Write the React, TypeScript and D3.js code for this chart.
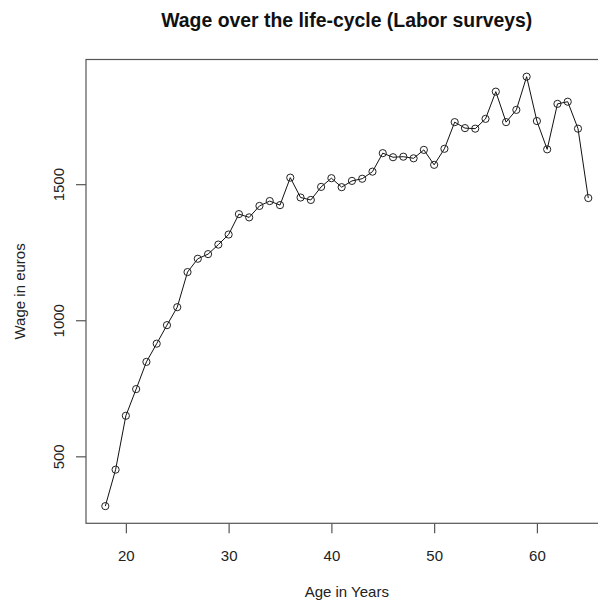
import { useEffect, useRef } from 'react';
import * as d3 from 'd3';

const AGES = [
  18, 19, 20, 21, 22, 23, 24, 25, 26, 27, 28, 29, 30, 31, 32, 33, 34, 35, 36, 37, 38, 39, 40, 41,
  42, 43, 44, 45, 46, 47, 48, 49, 50, 51, 52, 53, 54, 55, 56, 57, 58, 59, 60, 61, 62, 63, 64, 65,
];
const WAGES = [
  317, 451, 649, 747, 847, 914, 982, 1048, 1177, 1226, 1243, 1278, 1315, 1390, 1378, 1420, 1438, 1423,
  1524, 1451, 1442, 1490, 1522, 1489, 1512, 1520, 1546, 1614, 1599, 1601, 1595, 1626, 1571, 1630,
  1728, 1706, 1704, 1740, 1840, 1728, 1773, 1895, 1732, 1628, 1795, 1803, 1704, 1449,
];
const X_TICKS = [20, 30, 40, 50, 60];
const Y_TICKS = [500, 1000, 1500];

const TITLE = 'Wage over the life-cycle (Labor surveys)';
const X_LABEL = 'Age in Years';
const Y_LABEL = 'Wage in euros';

export default function App() {
  const svgRef = useRef<SVGSVGElement>(null);

  useEffect(() => {
    if (!svgRef.current) return;
    const width = 598;
    const height = 604;
    // plot region (R style box), right side runs past the picture edge
    const left = 86, right = 607.6, top = 59.5, bottom = 523.3;
    const font = "'Liberation Sans', Arial, Helvetica, sans-serif";

    const data = AGES.map((a, i) => ({ age: a, wage: WAGES[i] }));

    // R pads the data range by 4% on each side
    const pad = (ext: [number, number]) => {
      const d = (ext[1] - ext[0]) * 0.04;
      return [ext[0] - d, ext[1] + d];
    };
    const x = d3.scaleLinear()
      .domain(pad(d3.extent(AGES) as [number, number])).range([left, right]);
    const y = d3.scaleLinear()
      .domain(pad(d3.extent(WAGES) as [number, number])).range([bottom, top]);

    const svg = d3.select(svgRef.current);
    svg.selectAll('*').remove();
    svg.attr('width', width).attr('height', height);

    svg.append('rect').attr('width', width).attr('height', height).attr('fill', '#ffffff');

    // line + open circles (type = "o")
    const line = d3.line<{ age: number; wage: number }>()
      .x(d => x(d.age)).y(d => y(d.wage));
    svg.append('path')
      .datum(data)
      .attr('d', line)
      .attr('fill', 'none')
      .attr('stroke', '#111')
      .attr('stroke-width', 1);

    svg.append('g').selectAll('circle').data(data).join('circle')
      .attr('cx', d => x(d.age))
      .attr('cy', d => y(d.wage))
      .attr('r', 3.6)
      .attr('fill', 'none')
      .attr('stroke', '#222')
      .attr('stroke-width', 1);

    // box
    svg.append('rect')
      .attr('x', left).attr('y', top)
      .attr('width', right - left).attr('height', bottom - top)
      .attr('fill', 'none').attr('stroke', '#555').attr('stroke-width', 1.2);

    // x axis
    const xa = svg.append('g')
      .attr('transform', `translate(0,${bottom})`)
      .call(d3.axisBottom(x).tickValues(X_TICKS).tickSize(10).tickPadding(17).tickFormat(d3.format('d')));
    xa.select('.domain').remove();
    xa.selectAll('.tick line').attr('stroke', '#555').attr('stroke-width', 1.2);
    xa.selectAll('.tick text').attr('fill', '#222').attr('font-size', 15).attr('font-family', font);

    // y axis with rotated labels
    const ya = svg.append('g')
      .attr('transform', `translate(${left},0)`)
      .call(d3.axisLeft(y).tickValues(Y_TICKS).tickSize(10).tickFormat(d3.format('d')));
    ya.select('.domain').remove();
    ya.selectAll('.tick line').attr('stroke', '#555').attr('stroke-width', 1.2);
    ya.selectAll('.tick text')
      .attr('x', 0).attr('dy', null).attr('y', 0)
      .attr('transform', 'translate(-22,0) rotate(-90)')
      .attr('text-anchor', 'middle')
      .attr('fill', '#222').attr('font-size', 15).attr('font-family', font);

    // titles
    svg.append('text')
      .attr('x', (left + right) / 2).attr('y', 26.5)
      .attr('text-anchor', 'middle')
      .attr('font-family', font).attr('font-size', 19.4).attr('font-weight', 'bold')
      .attr('fill', '#111')
      .text(TITLE);

    svg.append('text')
      .attr('x', (left + right) / 2).attr('y', 597)
      .attr('text-anchor', 'middle')
      .attr('font-family', font).attr('font-size', 15).attr('fill', '#222')
      .text(X_LABEL);

    svg.append('text')
      .attr('transform', `translate(25,${(top + bottom) / 2}) rotate(-90)`)
      .attr('text-anchor', 'middle')
      .attr('font-family', font).attr('font-size', 15).attr('fill', '#222')
      .text(Y_LABEL);
  }, []);

  return <svg ref={svgRef} style={{ position: 'absolute', left: 0, top: 0, display: 'block' }} />;
}
